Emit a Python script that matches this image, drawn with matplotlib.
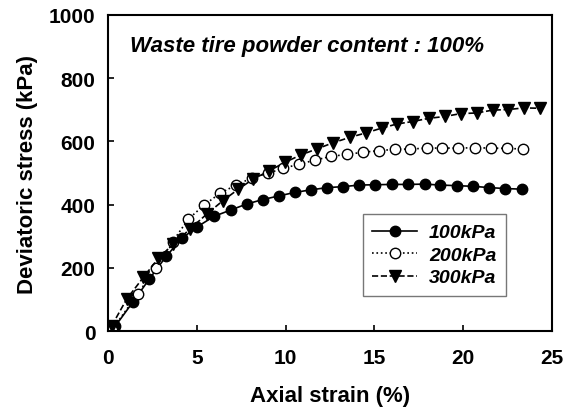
import numpy as np
import matplotlib.pyplot as plt

plt.rcParams['font.family'] = ['Liberation Sans', 'DejaVu Sans']
plt.rcParams['font.weight'] = 'bold'

# 100 kPa confining pressure
strain_100 = [0.4, 1.39, 2.33, 3.27, 4.15, 5.03, 5.97, 6.91, 7.81, 8.71, 9.65, 10.55, 11.45,
              12.35, 13.25, 14.15, 15.05, 15.99, 16.89, 17.83, 18.73, 19.67, 20.57, 21.47,
              22.37, 23.31]
stress_100 = [15, 91, 165, 236, 293, 330, 363, 383, 402, 416, 428, 439, 447,
              454, 457, 462, 463, 464, 464, 465, 462, 460, 458, 454,
              451, 449]

# 200 kPa
strain_200 = [0.21, 1.67, 2.70, 3.64, 4.52, 5.42, 6.31, 7.21, 8.09, 8.99, 9.87, 10.77, 11.67,
              12.58, 13.48, 14.38, 15.28, 16.18, 17.04, 17.98, 18.84, 19.74, 20.65, 21.55,
              22.45, 23.35]
stress_200 = [3, 117, 201, 283, 354, 399, 436, 462, 484, 499, 515, 528, 541,
              553, 559, 566, 571, 575, 576, 579, 579, 579, 580, 579,
              578, 576]

# 300 kPa
strain_300 = [0.21, 1.05, 1.99, 2.83, 3.68, 4.62, 5.56, 6.46, 7.34, 8.18, 9.08, 9.97, 10.85,
              11.75, 12.69, 13.63, 14.53, 15.41, 16.26, 17.16, 18.06, 18.98, 19.86, 20.76,
              21.66, 22.56, 23.42, 24.32]
stress_300 = [17, 101, 170, 230, 275, 323, 370, 412, 449, 481, 507, 534, 557,
              576, 596, 613, 627, 642, 655, 663, 673, 679, 688, 690,
              699, 701, 706, 705]

fig = plt.figure(figsize=(5.73, 4.10), dpi=100)
ax = fig.add_axes([0.1885, 0.19, 0.7745, 0.771])

ax.plot(strain_100, stress_100, '-', color='black', marker='o', markersize=7.5,
        markerfacecolor='black', linewidth=1.2, label='100kPa')
ax.plot(strain_200, stress_200, ':', color='black', marker='o', markersize=7.5,
        markerfacecolor='white', linewidth=1.2, label='200kPa')
ax.plot(strain_300, stress_300, '--', color='black', marker='v', markersize=8,
        markerfacecolor='black', linewidth=1.2, label='300kPa')

ax.set_xlim(0, 25)
ax.set_ylim(0, 1000)
ax.set_xticks(np.arange(0, 26, 5))
ax.set_yticks(np.arange(0, 1001, 200))
ax.tick_params(direction='in', length=4, width=1.2, labelsize=15)
ax.tick_params(axis='x', pad=12)
ax.tick_params(axis='y', pad=9)
for lbl in ax.get_xticklabels() + ax.get_yticklabels():
    lbl.set_fontweight('bold')
for sp in ax.spines.values():
    sp.set_linewidth(1.5)

ax.set_xlabel('Axial strain (%)', fontsize=16, fontweight='bold', labelpad=13)
ax.set_ylabel('Deviatoric stress (kPa)', fontsize=16, fontweight='bold', labelpad=8)

ax.text(0.05, 0.886, 'Waste tire powder content : 100%', transform=ax.transAxes,
        fontsize=16, fontweight='bold', fontstyle='italic', va='baseline')

leg = ax.legend(loc='upper left', bbox_to_anchor=(0.574, 0.37),
                prop={'size': 14, 'weight': 'bold', 'style': 'italic'},
                fancybox=False, edgecolor='#555555', handlelength=2.3,
                handletextpad=0.6, borderpad=0.5, labelspacing=0.25, borderaxespad=0)
leg.get_frame().set_linewidth(1.0)

fig.savefig('out.png', dpi=100)
